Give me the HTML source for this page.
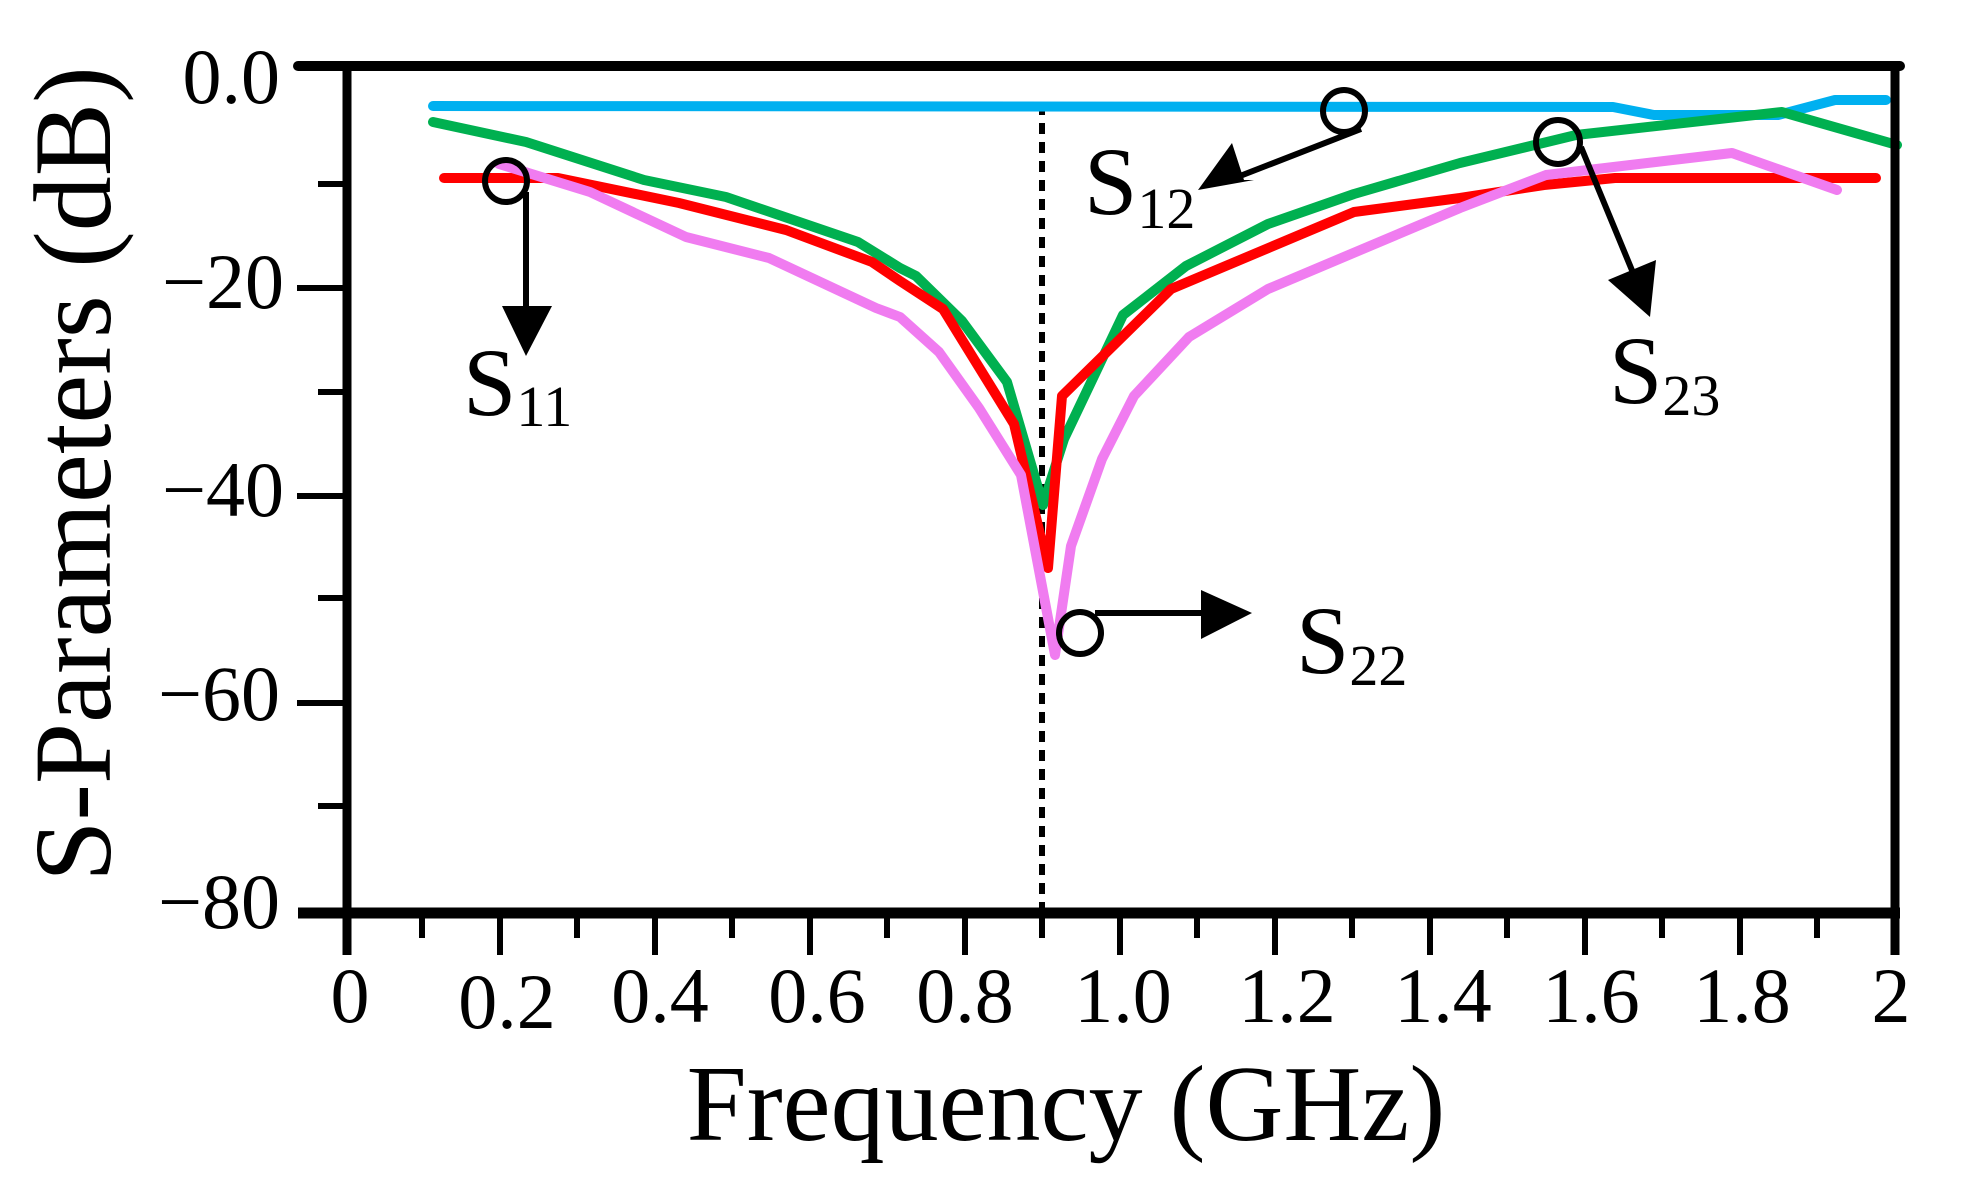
<!DOCTYPE html>
<html><head><meta charset="utf-8"><style>
html,body{margin:0;padding:0;background:#fff;}
svg{display:block;}
text{font-family:"Liberation Serif",serif;fill:#000;}
</style></head><body>
<svg width="1976" height="1196" viewBox="0 0 1976 1196" xmlns="http://www.w3.org/2000/svg">
<rect width="1976" height="1196" fill="#fff"/>
<line x1="1042" y1="104" x2="1042" y2="912" stroke="#000" stroke-width="6" stroke-dasharray="11 8"/>
<g fill="none" stroke-width="10" stroke-linejoin="round" stroke-linecap="round">
<polyline stroke="#00b0f0" points="433,106 1613,107 1654,115 1778,115 1835,100 1886,100"/>
<polyline stroke="#00b050" points="433,122 526,142 644,180 726,197 858,242 900,268 916,276 962,321 1007,382 1043,505 1064,439 1123,315 1186,266 1268,224 1354,194 1460,163 1576,135 1782,112 1897,145"/>
<polyline stroke="#ff0000" points="444,178 558,178 679,203 786,230 872,262 900,281 943,309 1014,424 1048,568 1062,396 1171,289 1354,212 1460,198 1544,185 1615,178 1876,178"/>
<polyline stroke="#f07cf0" points="499,164 590,192 686,237 769,258 876,308 900,317 939,352 979,408 1021,475 1055,655 1071,546 1102,459 1134,396 1189,337 1268,289 1460,208 1546,175 1732,153 1837,190"/>
</g>
<g stroke="#000" fill="none">
<line x1="298" y1="66" x2="1900" y2="66" stroke-width="10" stroke-linecap="round"/>
<line x1="347" y1="66" x2="347" y2="955" stroke-width="9"/>
<line x1="1895" y1="66" x2="1895" y2="955" stroke-width="9"/>
<line x1="298" y1="913" x2="1900" y2="913" stroke-width="11"/>
<g stroke-width="6">
<line x1="297" y1="288" x2="347" y2="288"/>
<line x1="297" y1="496" x2="347" y2="496"/>
<line x1="297" y1="703" x2="347" y2="703"/>
<line x1="318" y1="184" x2="347" y2="184"/>
<line x1="318" y1="392" x2="347" y2="392"/>
<line x1="318" y1="598" x2="347" y2="598"/>
<line x1="318" y1="806" x2="347" y2="806"/>
<line x1="500" y1="913" x2="500" y2="955"/><line x1="655" y1="913" x2="655" y2="955"/>
<line x1="810" y1="913" x2="810" y2="955"/><line x1="965" y1="913" x2="965" y2="955"/>
<line x1="1120" y1="913" x2="1120" y2="955"/><line x1="1275" y1="913" x2="1275" y2="955"/>
<line x1="1430" y1="913" x2="1430" y2="955"/><line x1="1585" y1="913" x2="1585" y2="955"/>
<line x1="1740" y1="913" x2="1740" y2="955"/>
<line x1="422" y1="913" x2="422" y2="938"/><line x1="577" y1="913" x2="577" y2="938"/>
<line x1="732" y1="913" x2="732" y2="938"/><line x1="887" y1="913" x2="887" y2="938"/>
<line x1="1042" y1="913" x2="1042" y2="938"/><line x1="1197" y1="913" x2="1197" y2="938"/>
<line x1="1352" y1="913" x2="1352" y2="938"/><line x1="1507" y1="913" x2="1507" y2="938"/>
<line x1="1662" y1="913" x2="1662" y2="938"/><line x1="1817" y1="913" x2="1817" y2="938"/>
</g>
</g>
<g font-size="78" text-anchor="end">
<text x="280" y="103">0.0</text>
<text x="284" y="308">−20</text>
<text x="284" y="516">−40</text>
<text x="280" y="720">−60</text>
<text x="280" y="928">−80</text>
</g>
<g font-size="78" text-anchor="middle">
<text x="350" y="1022">0</text>
<text x="507" y="1028">0.2</text>
<text x="660" y="1022">0.4</text>
<text x="817" y="1022">0.6</text>
<text x="965" y="1022">0.8</text>
<text x="1123" y="1022">1.0</text>
<text x="1287" y="1022">1.2</text>
<text x="1443" y="1022">1.4</text>
<text x="1591" y="1022">1.6</text>
<text x="1742" y="1022">1.8</text>
<text x="1891" y="1022">2</text>
</g>
<text x="1066" y="1140" font-size="108" text-anchor="middle">Frequency (GHz)</text>
<text transform="translate(110,474) rotate(-90)" font-size="110" text-anchor="middle">S-Parameters (dB)</text>
<g stroke="#000" fill="none" stroke-width="6">
<circle cx="506" cy="181" r="21"/>
<line x1="526" y1="192" x2="526" y2="315"/>
<circle cx="1344" cy="111" r="21"/>
<line x1="1361" y1="129" x2="1240" y2="176"/>
<circle cx="1080" cy="633" r="21"/>
<line x1="1095" y1="613" x2="1215" y2="613"/>
<circle cx="1558" cy="142" r="22"/>
<line x1="1581" y1="147" x2="1636" y2="280"/>
</g>
<g fill="#000">
<polygon points="502,306 552,306 526,356"/>
<polygon points="1198,190 1232,143 1244,180 1254,180"/>
<polygon points="1201,590 1252,613 1201,639"/>
<polygon points="1608,280 1656,260 1650,317"/>
</g>
<g font-size="96">
<text x="463" y="415">S<tspan font-size="58" dy="11">11</tspan></text>
<text x="1084" y="214">S<tspan font-size="58" dy="14">12</tspan></text>
<text x="1296" y="673">S<tspan font-size="58" dy="12">22</tspan></text>
<text x="1609" y="403">S<tspan font-size="58" dy="12">23</tspan></text>
</g>
</svg>
</body></html>
